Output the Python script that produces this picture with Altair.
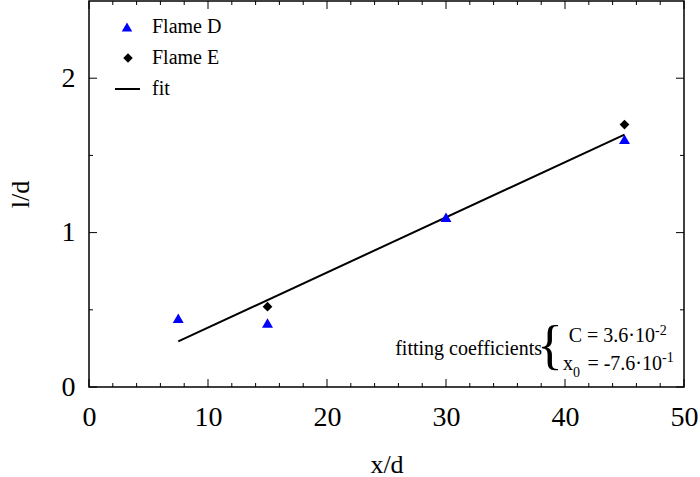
import altair as alt
import pandas as pd

# Data
flame_d_x = [7.5, 15.0, 30.0, 45.0]
flame_d_y = [0.445, 0.415, 1.10, 1.605]
flame_e_x = [15.0, 45.0]
flame_e_y = [0.52, 1.70]
fit_x = [7.5, 45.0]
fit_y = [0.295, 1.635]

x_major = [0, 10, 20, 30, 40, 50]
x_minor = [2, 4, 6, 8, 12, 14, 16, 18, 22, 24, 26, 28, 32, 34, 36, 38, 42, 44, 46, 48]
y_major = [0, 1, 2]
y_minor = [0.5, 1.5]

legend_labels = ["Flame D", "Flame E", "fit"]
annot_label = "fitting coefficients"
coef_c_base = "C = 3.6·10"
coef_c_exp = "-2"
coef_x_sym = "x"
coef_x_sub = "0"
coef_x_base = "= -7.6·10"
coef_x_exp = "-1"

W, H = 595, 386
FONT = "Liberation Serif"

xs = alt.Scale(domain=[0, 50], nice=False, zero=False)
ys = alt.Scale(domain=[0, 2.5], nice=False, zero=False)

d_df = pd.DataFrame({"x": flame_d_x, "y": flame_d_y})
e_df = pd.DataFrame({"x": flame_e_x, "y": flame_e_y})
fit_df = pd.DataFrame({"x": fit_x, "y": fit_y})

base_axis_x = alt.X("x:Q", scale=xs, title="x/d",
                    axis=alt.Axis(values=x_major, format="d", ticks=False, domain=False, grid=False,
                                  labelFont=FONT, labelFontSize=28, labelColor="black",
                                  labelPadding=16, titleFont=FONT, titleFontSize=26,
                                  titleFontWeight="normal", titleColor="black", titlePadding=20,
                                  labelFlush=False))
base_axis_y = alt.Y("y:Q", scale=ys, title="l/d",
                    axis=alt.Axis(values=y_major, format="d", ticks=False, domain=False, grid=False,
                                  labelFont=FONT, labelFontSize=28, labelColor="black",
                                  labelPadding=14, titleFont=FONT, titleFontSize=26,
                                  titleFontWeight="normal", titleColor="black", titlePadding=28,
                                  labelFlush=False))

fit_line = alt.Chart(fit_df).mark_line(color="black", strokeWidth=2).encode(
    x=base_axis_x, y=base_axis_y)

pts_d = alt.Chart(d_df).mark_point(shape="triangle-up", filled=True, color="#0000ff",
                                   size=120, opacity=1).encode(
    x=alt.X("x:Q", scale=xs), y=alt.Y("y:Q", scale=ys))
pts_e = alt.Chart(e_df).mark_point(shape="diamond", filled=True, color="black",
                                   size=95, opacity=1).encode(
    x=alt.X("x:Q", scale=xs), y=alt.Y("y:Q", scale=ys))


# inner ticks on all four sides
def xticks(vals, length, top):
    df = pd.DataFrame({"x": vals})
    yc = length / 2 if top else H - length / 2
    return alt.Chart(df).mark_tick(color="black", thickness=1, size=length, opacity=1).encode(
        x=alt.X("x:Q", scale=xs), y=alt.value(yc))


def yticks(vals, length, right):
    df = pd.DataFrame({"y": vals})
    xc = W - length / 2 if right else length / 2
    return alt.Chart(df).mark_tick(color="black", thickness=1, size=length, opacity=1).encode(
        y=alt.Y("y:Q", scale=ys), x=alt.value(xc))


ticks = [xticks(x_major, 8, False), xticks(x_minor, 4, False),
         xticks(x_major, 8, True), xticks(x_minor, 4, True),
         yticks(y_major, 8, False), yticks(y_minor, 4, False),
         yticks(y_major, 8, True), yticks(y_minor, 4, True)]


def label(text, x, y, size=20, align="left", baseline="alphabetic"):
    return alt.Chart(pd.DataFrame({"t": [text]})).mark_text(
        align=align, baseline=baseline, font=FONT, fontSize=size, color="black").encode(
        x=alt.value(x), y=alt.value(y), text="t:N")


# legend (manual, inside top-left)
leg_rows = [26, 57, 88]
leg_texts = [label(t, 63, r, baseline="middle") for t, r in zip(legend_labels, leg_rows)]
leg_d = alt.Chart(pd.DataFrame({"t": [legend_labels[0]]})).mark_point(
    shape="triangle-up", filled=True, color="#0000ff", size=110, opacity=1).encode(
    x=alt.value(38), y=alt.value(leg_rows[0]))
leg_e = alt.Chart(pd.DataFrame({"t": [legend_labels[1]]})).mark_point(
    shape="diamond", filled=True, color="black", size=90, opacity=1).encode(
    x=alt.value(39), y=alt.value(leg_rows[1]))
leg_line = alt.Chart(pd.DataFrame({"t": [legend_labels[2]]})).mark_rule(
    color="black", strokeWidth=2).encode(
    x=alt.value(26), x2=alt.value(51), y=alt.value(leg_rows[2]))

# annotation
ann = label(annot_label, 453, 354, align="right")
brace = alt.Chart(pd.DataFrame({"t": ["{"]})).mark_text(
    align="center", baseline="middle", font=FONT, fontSize=54, fontWeight=300,
    color="black").encode(
    x=alt.value(461), y=alt.value(346), text="t:N")
c_base = label(coef_c_base, 566, 341, align="right")
c_exp = label(coef_c_exp, 566, 334, size=14)
x_sym = label(coef_x_sym, 474, 369)
x_sub = label(coef_x_sub, 484, 376, size=14)
x_base = label(coef_x_base, 573, 369, align="right")
x_exp = label(coef_x_exp, 573, 361, size=14)

chart = alt.layer(fit_line, *ticks, pts_d, pts_e, *leg_texts, leg_d, leg_e, leg_line,
                  ann, brace, c_base, c_exp, x_sym, x_sub, x_base, x_exp).properties(
    width=W, height=H,
    padding={"left": 89, "top": 1, "right": 16, "bottom": 90},
    autosize=alt.AutoSizeParams(type="none"),
    background="white",
).configure(font=FONT).configure_text(font=FONT).configure_view(
    stroke="black", strokeWidth=1.5)

chart.save("out.html", embed_options={"renderer": "svg", "actions": False})
